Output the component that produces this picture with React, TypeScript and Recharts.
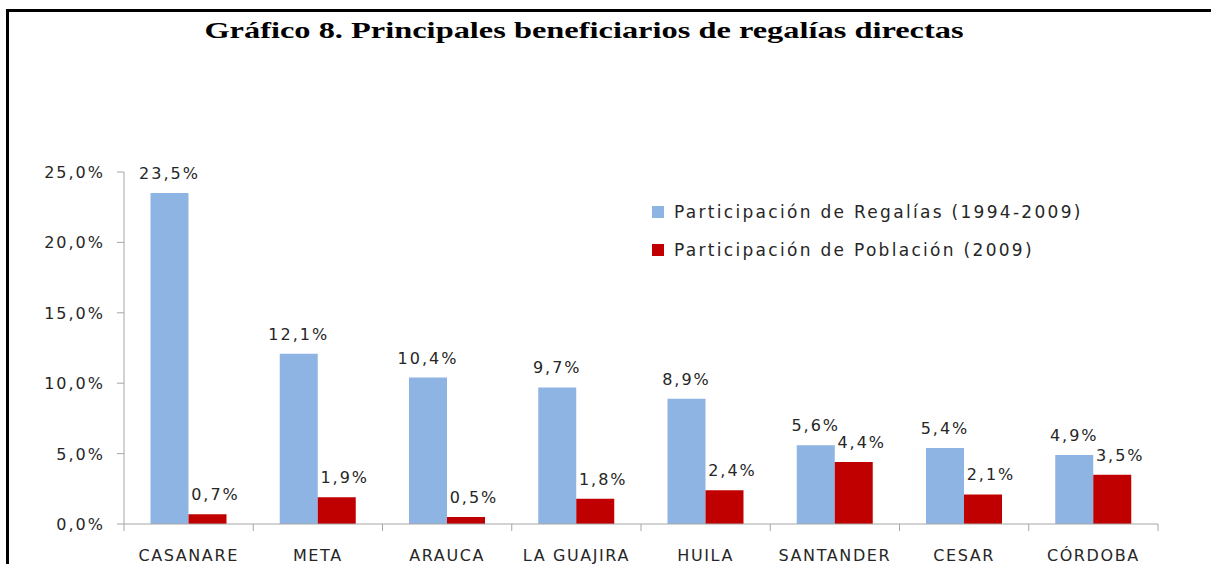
import { BarChart, Bar, XAxis, YAxis, Legend, LabelList } from 'recharts';

const categories = ['CASANARE', 'META', 'ARAUCA', 'LA GUAJIRA', 'HUILA', 'SANTANDER', 'CESAR', 'CÓRDOBA'];
const regalias = [23.5, 12.1, 10.4, 9.7, 8.9, 5.6, 5.4, 4.9];
const poblacion = [0.7, 1.9, 0.5, 1.8, 2.4, 4.4, 2.1, 3.5];
const yTicks = [0, 5, 10, 15, 20, 25];

const SERIES = [
  { key: 'regalias', name: 'Participación de Regalías (1994-2009)', color: '#8EB4E3' },
  { key: 'poblacion', name: 'Participación de Población (2009)', color: '#C00000' },
];

const data = categories.map((c, i) => ({ cat: c, regalias: regalias[i], poblacion: poblacion[i] }));

const W = 1211;
const H = 564;
const MARGIN = { top: 172, right: 53, bottom: 39, left: 0 };
const FONT = '"DejaVu Sans", sans-serif';
const AXIS = '#a6a6a6';
const TEXT = '#262626';
const NUM_STYLE = { fontFamily: FONT, fontSize: 16, letterSpacing: 2 };

const pct = (v: unknown) => (typeof v === 'number' ? `${v.toFixed(1).replace('.', ',')}%` : '');

function CategoryTick(props: any) {
  const { x, y, payload, index } = props;
  const half = payload?.offset ?? 64.6;
  const last = index === categories.length - 1;
  return (
    <g>
      <line x1={x - half} x2={x - half} y1={y} y2={y + 7} stroke={AXIS} />
      {last && <line x1={x + half} x2={x + half} y1={y} y2={y + 7} stroke={AXIS} />}
      <text
        x={x}
        y={y + 37}
        textAnchor="middle"
        fill={TEXT}
        style={{ fontFamily: FONT, fontSize: 16, letterSpacing: 1.6 }}
      >
        {payload.value}
      </text>
    </g>
  );
}

function ValueTick(props: any) {
  const { x, y, payload } = props;
  return (
    <text x={x} y={y} dy={6} textAnchor="end" fill={TEXT} style={NUM_STYLE}>
      {pct(payload.value)}
    </text>
  );
}

function LegendBox() {
  return (
    <div style={{ fontFamily: FONT, fontSize: 17, letterSpacing: 2.3, color: TEXT }}>
      {SERIES.map((s) => (
        <div key={s.key} style={{ display: 'flex', alignItems: 'center', height: 38, whiteSpace: 'nowrap' }}>
          <span style={{ display: 'inline-block', width: 12, height: 12, background: s.color, marginRight: 10 }} />
          <span>{s.name}</span>
        </div>
      ))}
    </div>
  );
}

export default function App() {
  return (
    <div style={{ position: 'absolute', left: 0, top: 0, width: W, height: H, background: '#fff', overflow: 'hidden' }}>
      <div
        style={{
          position: 'absolute',
          left: 6,
          top: 9,
          width: W,
          height: H,
          borderTop: '3px solid #000',
          borderLeft: '3px solid #000',
        }}
      />
      <div
        style={{
          position: 'absolute',
          left: 0,
          top: 18,
          width: 1168,
          textAlign: 'center',
          fontFamily: '"Liberation Serif", "Times New Roman", serif',
          fontWeight: 'bold',
          fontSize: 24,
          lineHeight: '24px',
          color: '#000',
          transform: 'scaleX(1.35)',
          transformOrigin: '584px 0',
        }}
      >
        Gráfico 8. Principales beneficiarios de regalías directas
      </div>
      <div style={{ position: 'absolute', left: 0, top: 0 }}>
        <BarChart width={W} height={H} data={data} margin={MARGIN} barCategoryGap="20.5%" barGap={0}>
          <XAxis
            dataKey="cat"
            stroke={AXIS}
            height={1}
            tickLine={false}
            tickSize={0}
            tickMargin={0}
            interval={0}
            tick={<CategoryTick />}
          />
          <YAxis
            width={124}
            domain={[0, 25]}
            ticks={yTicks}
            stroke={AXIS}
            tickSize={7}
            tickMargin={12}
            tick={<ValueTick />}
          />
          <Legend
            layout="vertical"
            align="center"
            verticalAlign="middle"
            wrapperStyle={{ left: 652, top: 193, width: 520 }}
            content={() => <LegendBox />}
          />
          {SERIES.map((s, si) => (
            <Bar key={s.key} dataKey={s.key} name={s.name} fill={s.color} isAnimationActive={false}>
              <LabelList
                dataKey={s.key}
                position="top"
                offset={14}
                dx={si === 1 ? 8 : 0}
                formatter={pct}
                fill={TEXT}
                style={NUM_STYLE}
              />
            </Bar>
          ))}
        </BarChart>
      </div>
    </div>
  );
}
